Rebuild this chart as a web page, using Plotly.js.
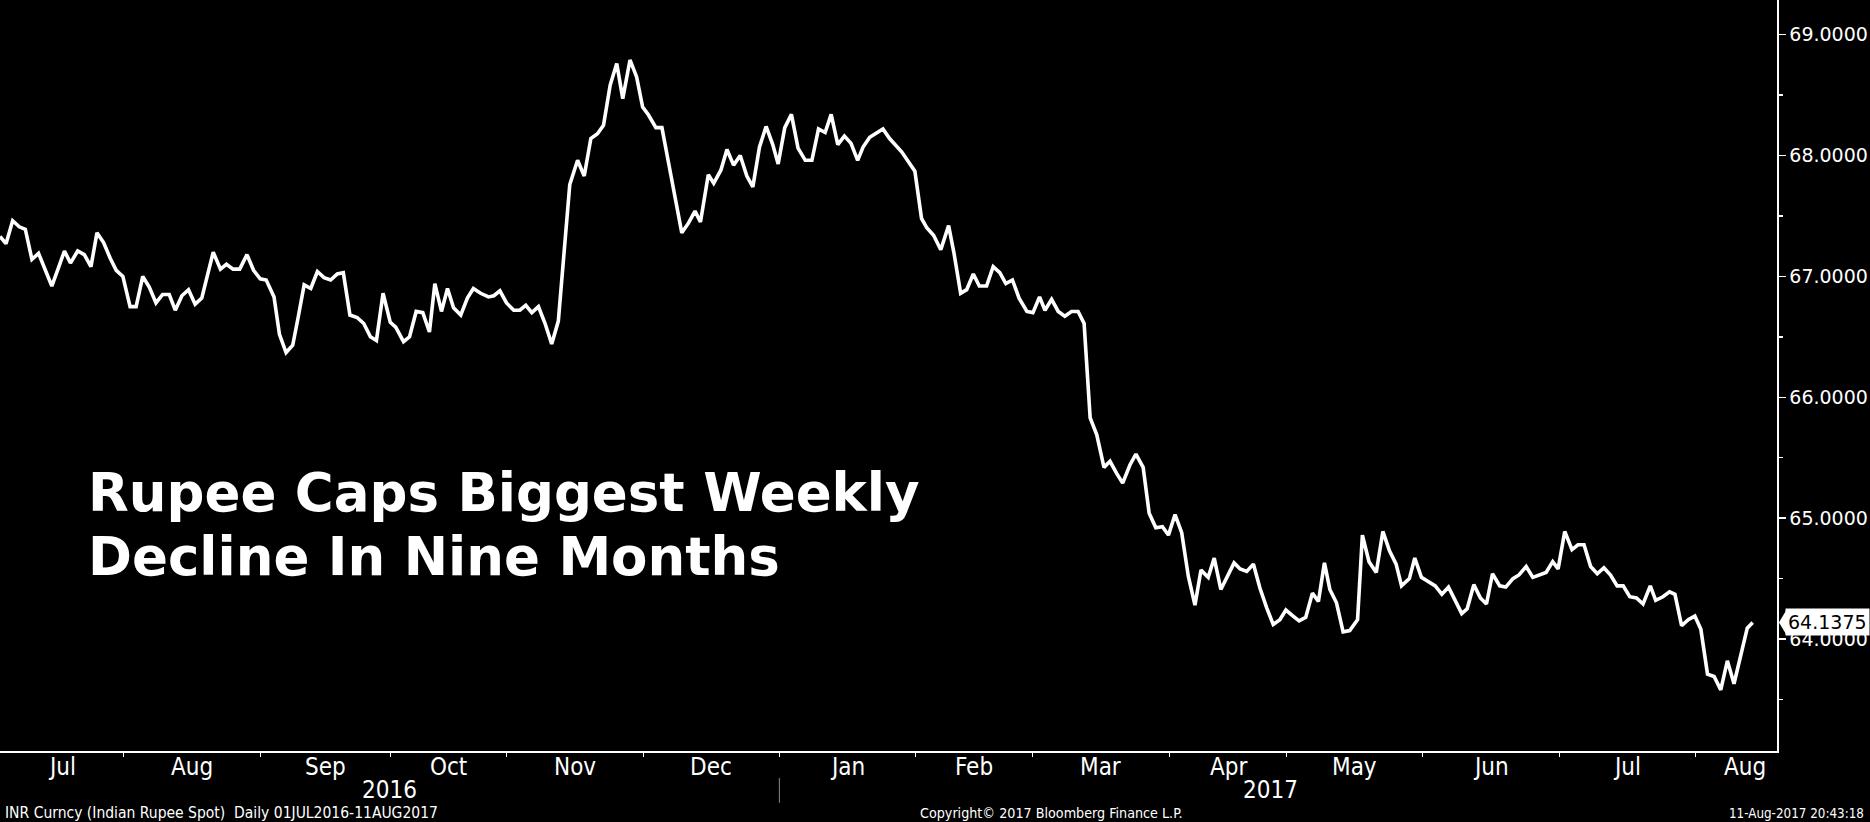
<!DOCTYPE html>
<html>
<head>
<meta charset="utf-8">
<script src="https://cdn.plot.ly/plotly-3.0.1.min.js"></script>
<style>
  html, body { margin: 0; padding: 0; background: #000; }
  #chart { width: 1870px; height: 822px; }
</style>
</head>
<body>
<div id="chart"></div>
<script>
// Trading-day position (x) and INR spot rate (y)
const tradingDay = [
  0.0,1.0,2.1,3.2,4.2,5.3,6.4,8.6,9.7,10.7,
  11.7,12.9,14.0,15.1,16.1,17.2,18.3,19.3,20.4,21.6,
  22.6,23.7,24.8,25.9,27.0,28.1,29.1,30.2,31.3,32.4,
  33.5,34.6,35.4,36.6,37.6,38.7,39.8,41.0,42.1,43.2,
  44.2,45.5,46.4,47.5,48.6,49.5,50.5,51.6,52.7,53.8,
  54.9,56.0,57.0,58.1,59.3,60.4,61.5,62.5,63.6,64.8,
  65.7,67.0,68.0,69.1,70.2,71.3,72.2,73.3,
  74.3,75.3,76.5,77.6,78.6,79.8,81.1,82.0,83.0,84.1,
  85.3,86.3,87.3,88.3,89.4,90.5,91.6,92.7,94.6,95.9,
  97.0,98.1,99.2,100.2,101.3,102.4,103.4,104.6,105.7,106.7,
  107.6,108.9,109.9,111.0,112.1,113.2,114.3,115.4,116.3,117.6,
  118.5,119.7,120.7,121.8,122.9,124.0,125.0,126.1,127.2,128.3,
  129.2,130.3,131.4,132.5,133.7,134.8,135.9,137.0,138.0,139.1,
  140.2,141.3,142.4,143.3,144.4,145.6,146.6,147.7,
  148.6,149.7,150.8,151.9,153.0,153.9,155.0,156.2,157.5,158.4,
  159.5,160.5,161.6,162.6,163.8,164.9,166.0,167.0,168.1,169.2,
  170.5,171.5,172.6,173.5,174.6,175.7,176.8,177.9,179.0,180.0,
  181.0,182.1,183.3,184.3,185.4,186.4,187.6,188.6,189.8,190.8,
  191.9,193.0,194.0,195.1,196.2,197.3,198.4,199.4,200.6,201.6,
  202.7,203.9,204.9,205.9,207.0,208.1,209.2,210.3,211.4,212.5,
  213.5,214.7,215.7,216.8,217.9,218.9,219.9,220.8,
  221.9,223.0,224.1,225.4,226.2,227.3,228.5,229.6,230.7,231.8,
  232.7,234.0,234.9,236.0,237.1,238.3,239.4,240.5,241.6,242.7,
  243.6,244.7,245.8,246.8,247.8,249.0,250.0,251.2,252.2,253.4,
  254.5,255.6,256.7,257.8,258.7,259.8,261.0,262.0,263.0,264.1,
  265.2,266.3,267.4,268.5,269.5,270.6,271.7,272.8,274.0,274.9,
  276.1,277.2,278.1,279.2,280.3,281.4,282.4,283.5,284.6,285.7,
  286.8,287.9,289.0,290.1,291.0
];
const inrSpot = [
  67.33,67.27,67.46,67.41,67.39,67.14,67.19,66.92,67.07,67.21,
  67.11,67.21,67.18,67.08,67.36,67.28,67.15,67.05,67.00,66.75,
  66.75,67.00,66.91,66.78,66.85,66.85,66.72,66.84,66.89,66.77,
  66.82,67.05,67.20,67.06,67.10,67.06,67.06,67.18,67.05,66.98,
  66.97,66.83,66.52,66.37,66.43,66.66,66.93,66.90,67.04,66.99,
  66.97,67.02,67.03,66.68,66.66,66.61,66.50,66.47,66.86,66.62,
  66.58,66.46,66.50,66.71,66.70,66.54,66.94,66.71,
  66.90,66.74,66.68,66.82,66.90,66.86,66.83,66.84,66.88,66.78,
  66.72,66.72,66.76,66.70,66.75,66.61,66.44,66.63,67.76,67.96,
  67.83,68.14,68.18,68.25,68.58,68.76,68.47,68.79,68.65,68.40,
  68.34,68.23,68.23,67.94,67.63,67.36,67.44,67.54,67.45,67.84,
  67.77,67.88,68.05,67.92,68.00,67.83,67.74,68.07,68.24,68.09,
  67.93,68.23,68.34,68.06,67.96,67.96,68.22,68.19,68.34,68.09,
  68.16,68.10,67.96,68.07,68.15,68.19,68.22,68.14,
  68.09,68.03,67.95,67.87,67.48,67.40,67.34,67.22,67.42,67.19,
  66.86,66.89,67.02,66.92,66.92,67.08,67.03,66.94,66.97,66.82,
  66.71,66.70,66.83,66.72,66.81,66.71,66.67,66.71,66.71,66.61,
  65.83,65.69,65.42,65.47,65.37,65.29,65.44,65.53,65.42,65.04,
  64.92,64.93,64.86,65.03,64.88,64.52,64.28,64.57,64.51,64.67,
  64.41,64.53,64.63,64.58,64.56,64.62,64.42,64.26,64.12,64.16,
  64.24,64.19,64.15,64.18,64.38,64.31,64.63,64.41,
  64.30,64.06,64.07,64.16,64.86,64.64,64.55,64.89,64.73,64.62,
  64.44,64.50,64.67,64.51,64.48,64.44,64.37,64.43,64.32,64.21,
  64.25,64.45,64.34,64.29,64.54,64.44,64.43,64.50,64.53,64.60,
  64.51,64.53,64.55,64.64,64.58,64.89,64.74,64.78,64.78,64.60,
  64.54,64.59,64.53,64.44,64.44,64.35,64.34,64.29,64.44,64.32,
  64.35,64.39,64.37,64.11,64.16,64.19,64.08,63.71,63.69,63.58,
  63.82,63.63,63.87,64.09,64.1375
];
// Month boundaries (trading-day positions) and labels
const monthBounds = [20.49,43.27,64.85,84.06,106.82,129.40,151.98,171.38,194.14,213.65,236.13,258.89,281.47];
const monthNames = ['Jul','Aug','Sep','Oct','Nov','Dec','Jan','Feb','Mar','Apr','May','Jun','Jul','Aug'];
const yearNames = ['2016','2017'];
const yearSplitIndex = 5; // boundary between Dec and Jan
const titleLines = ['Rupee Caps Biggest Weekly', 'Decline In Nine Months'];
const footerLeft = 'INR Curncy (Indian Rupee Spot)\u00a0\u00a0Daily 01JUL2016-11AUG2017';
const footerMid = 'Copyright\u00a9 2017 Bloomberg Finance L.P.';
const footerRight = '11-Aug-2017 20:43:18';

const xRange = [0, 295.04];
const yRange = [63.074, 69.286];

const narrow = "'Liberation Sans Narrow', 'DejaVu Sans Condensed', 'Liberation Sans', sans-serif";
const annotations = [];

// month labels centred in each month span (last one nudged to the right like the original)
const edges = [xRange[0]].concat(monthBounds, [xRange[1] + 3]);
monthNames.forEach((m, i) => {
  annotations.push({
    text: m, xref: 'x', yref: 'paper', x: (edges[i] + edges[i + 1]) / 2, y: -0.0213,
    xanchor: 'center', yanchor: 'middle', showarrow: false,
    font: {family: narrow, size: 24, color: '#ffffff'}
  });
});
// year labels
const yearEdges = [xRange[0], monthBounds[yearSplitIndex], xRange[1]];
yearNames.forEach((yname, i) => {
  annotations.push({
    text: yname, xref: 'x', yref: 'paper', x: (yearEdges[i] + yearEdges[i + 1]) / 2 - (i === 1 ? 1.3 : 0), y: -0.0519,
    xanchor: 'center', yanchor: 'middle', showarrow: false,
    font: {family: narrow, size: 24, color: '#ffffff'}
  });
});
// footer
annotations.push({text: footerLeft, xref: 'paper', yref: 'paper', x: 0.0017, y: -0.0826,
  xanchor: 'left', yanchor: 'middle', showarrow: false, font: {family: narrow, size: 15.5, color: '#ffffff'}});
annotations.push({text: footerMid, xref: 'paper', yref: 'paper', x: 0.5917, y: -0.0826,
  xanchor: 'center', yanchor: 'middle', showarrow: false, font: {family: narrow, size: 14.2, color: '#ffffff'}});
annotations.push({text: footerRight, xref: 'paper', yref: 'paper', x: 1.050, y: -0.0826,
  xanchor: 'right', yanchor: 'middle', showarrow: false, font: {family: narrow, size: 13.3, color: '#ffffff'}});
// headline
annotations.push({text: titleLines[0], xref: 'paper', yref: 'paper', x: 0.0484, y: 0.344,
  xanchor: 'left', yanchor: 'middle', showarrow: false,
  font: {family: "'DejaVu Sans', sans-serif", weight: 'bold', size: 53, color: '#ffffff'}});
annotations.push({text: titleLines[1], xref: 'paper', yref: 'paper', x: 0.0484, y: 0.2587,
  xanchor: 'left', yanchor: 'middle', showarrow: false,
  font: {family: "'DejaVu Sans', sans-serif", weight: 'bold', size: 53, color: '#ffffff'}});
// last value tag
const lastVal = inrSpot[inrSpot.length - 1];
const lastPaperY = (lastVal - yRange[0]) / (yRange[1] - yRange[0]);
annotations.push({text: lastVal.toFixed(4), xref: 'paper', yref: 'paper', x: 1, y: lastPaperY,
  xanchor: 'left', yanchor: 'middle', xshift: 8, showarrow: false,
  bgcolor: '#ffffff', borderpad: 2,
  font: {family: "'DejaVu Sans', sans-serif", size: 19, color: '#000000'}});

const shapes = [
  // separator between years
  {type: 'line', xref: 'x', yref: 'paper', x0: monthBounds[yearSplitIndex], x1: monthBounds[yearSplitIndex],
   y0: -0.036, y1: -0.069, line: {color: '#8a8a8a', width: 1}},
  // arrow head of last value tag
  {type: 'path', xref: 'paper', yref: 'paper',
   path: `M 1.0011 ${lastPaperY} L 1.0053 ${lastPaperY + 0.0165} L 1.0053 ${lastPaperY - 0.0165} Z`,
   fillcolor: '#ffffff', line: {width: 0}}
];

const trace = {
  x: tradingDay, y: inrSpot, type: 'scatter', mode: 'lines',
  line: {color: '#ffffff', width: 3.6}, hoverinfo: 'skip'
};

const layout = {
  width: 1870, height: 822,
  paper_bgcolor: '#000000', plot_bgcolor: '#000000',
  margin: {l: 0, r: 93, t: 0, b: 71, pad: 0},
  showlegend: false,
  xaxis: {
    range: xRange, showline: true, linecolor: '#ffffff', linewidth: 1.5,
    ticks: 'outside', ticklen: 4, tickwidth: 1, tickcolor: '#ffffff',
    tickmode: 'array', tickvals: monthBounds, showticklabels: false,
    showgrid: false, zeroline: false, fixedrange: true
  },
  yaxis: {
    side: 'right', range: yRange, showline: true, linecolor: '#ffffff', linewidth: 1.5,
    ticks: 'outside', ticklen: 7, tickwidth: 1.5, tickcolor: '#ffffff',
    tickmode: 'linear', tick0: 0, dtick: 1, tickformat: '.4f',
    tickfont: {family: "'DejaVu Sans', sans-serif", size: 19, color: '#ffffff'},
    minor: {tick0: 0, dtick: 0.5, ticks: 'outside', ticklen: 4, tickcolor: '#ffffff', showgrid: false},
    showgrid: false, zeroline: false, fixedrange: true
  },
  annotations: annotations,
  shapes: shapes
};

Plotly.newPlot('chart', [trace], layout, {displayModeBar: false, staticPlot: true});
</script>
</body>
</html>
